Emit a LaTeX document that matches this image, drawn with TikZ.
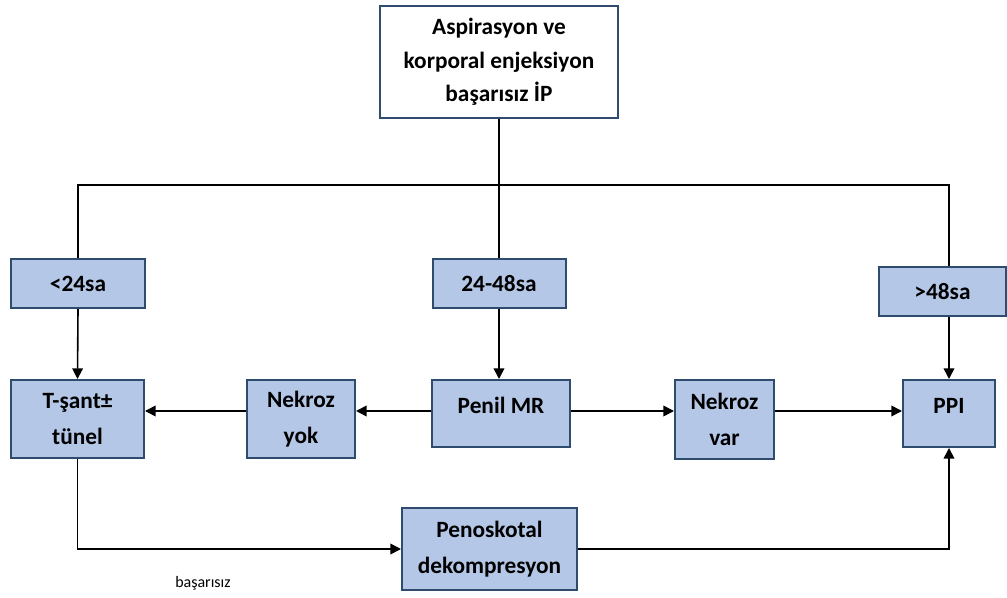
\documentclass[tikz,border=0pt]{standalone}
\usepackage{fontspec}
\setmainfont{Carlito}
\usetikzlibrary{arrows.meta}
\definecolor{boxfill}{HTML}{B4C7E7}
\definecolor{boxline}{HTML}{2F4B6E}
\begin{document}
\begin{tikzpicture}[x=0.75pt, y=-0.75pt, >={Triangle[length=8pt,width=8pt]}, line width=1.2pt,
    every node/.style={font=\fontsize{17.5}{27}\selectfont\bfseries},
    box/.style={draw=boxline, fill=boxfill, line width=1.5pt, align=center, inner sep=0pt},
    sz/.style 2 args={minimum width=#1*0.75pt, minimum height=#2*0.75pt}]
    \useasboundingbox (0,0) rectangle (1007,598);

    % start
    \node(top)[box, fill=white, sz={238}{112}, font=\fontsize{17.5}{25}\selectfont\bfseries] at (499,62)
        {Aspirasyon ve\\korporal enjeksiyon\\başarısız İP};
    \coordinate(split) at (499,185);

    % time windows
    \node(lt24)[box, sz={134}{49}] at (78,283.5) {<24sa};
    \node(mid)[box, sz={133}{49}] at (499,283.5) {24-48sa};
    \node(gt48)[box, sz={127}{49}] at (942.5,291.5) {>48sa};

    % treatments
    \node(tsant)[box, sz={133}{78}] at (77.5,419) {T-şant±\\tünel};
    \node(nyok)[box, sz={108}{78}] at (301,419) {Nekroz\\yok};
    \node(penil)[box, sz={138}{67}, text depth=12pt] at (501,413.5) {Penil MR};
    \node(nvar)[box, sz={99}{79}] at (724.5,419.5) {Nekroz\\var};
    \node(ppi)[box, sz={92}{67}, text depth=12pt] at (949,413.5) {PPI};
    \node(peno)[box, sz={175}{82}] at (489.5,549) {Penoskotal\\dekompresyon};
    \node(fail)[font=\fontsize{12}{14}\selectfont] at (203,583) {başarısız};

    % connectors
    \draw (top.south) -- (split);
    \draw (lt24.north) -- (lt24.north|-split) -- (ppi|-split) -- (ppi|-gt48.north);
    \draw (split) -- (mid.north);
    \draw[->] (lt24.south) -- (tsant.north);
    \draw[->] (mid.south) -- (mid.south|-penil.north);
    \draw[->] (ppi|-gt48.south) -- (ppi.north);
    \draw[->] (penil.west|-0,411) -- (nyok.east|-0,411);
    \draw[->] (nyok.west|-0,411) -- (tsant.east|-0,411);
    \draw[->] (penil.east|-0,411) -- (nvar.west|-0,411);
    \draw[->] (nvar.east|-0,411) -- (ppi.west|-0,411);
    \draw[->] (tsant.south) |- (peno.west);
    \draw[->] (peno.east) -| (ppi.south);
\end{tikzpicture}
\end{document}
